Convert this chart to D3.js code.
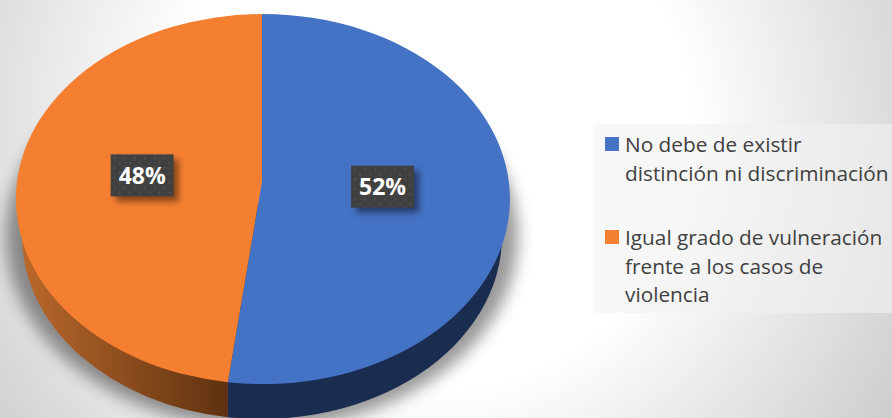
<!DOCTYPE html>
<html>
<head>
<meta charset="utf-8">
<script src="https://cdn.jsdelivr.net/npm/d3@7"></script>
<style>
  html, body { margin: 0; padding: 0; background: #fff; overflow: hidden; }
  text { font-family: "Open Sans", "Noto Sans", sans-serif; }
</style>
</head>
<body>
<div id="chart"></div>
<script>
const categories = ['No debe de existir distinción ni discriminación', 'Igual grado de vulneración frente a los casos de violencia']
const legendLines = [['No debe de existir', 'distinción ni discriminación'], ['Igual grado de vulneración', 'frente a los casos de', 'violencia']]
const values = [52, 48]
const colors = ['#4472c4', '#f47f30']

const width = 892, height = 418
// cara superior: elipse vista en perspectiva, el vertice queda arriba del centro
const cx = 262, cy = 199, rx = 247, ry = 185
const apexY = 181, k = -0.0973, projA = 245.8, projB = 183.2
// borde inferior del lateral
const rimY = 236, rimRx = 240, rimRy = 183

const svg = d3.select('#chart').append('svg')
  .attr('width', width).attr('height', height)

const defs = svg.append('defs')

const bg = defs.append('radialGradient').attr('id', 'bg')
  .attr('gradientUnits', 'userSpaceOnUse')
  .attr('cx', 430).attr('cy', 130).attr('r', 544)
bg.append('stop').attr('offset', 0.478).attr('stop-color', '#ffffff')
bg.append('stop').attr('offset', 1).attr('stop-color', '#cdcdcd')

const sideOrange = defs.append('linearGradient').attr('id', 'sideOrange')
  .attr('gradientUnits', 'userSpaceOnUse')
  .attr('x1', cx - rx).attr('x2', 229).attr('y1', 0).attr('y2', 0)
sideOrange.append('stop').attr('offset', 0).attr('stop-color', '#bd6a2c')
sideOrange.append('stop').attr('offset', 1).attr('stop-color', '#5e3110')

defs.append('filter').attr('id', 'soft').attr('x', '-20%').attr('y', '-20%').attr('width', '140%').attr('height', '140%')
  .append('feGaussianBlur').attr('stdDeviation', 8)
defs.append('filter').attr('id', 'labelShadow').attr('x', '-40%').attr('y', '-40%').attr('width', '180%').attr('height', '180%')
  .append('feGaussianBlur').attr('stdDeviation', 3)

const dots = defs.append('pattern').attr('id', 'dots')
  .attr('patternUnits', 'userSpaceOnUse').attr('width', 10).attr('height', 10)
dots.append('rect').attr('width', 10).attr('height', 10).attr('fill', '#404040')
dots.append('circle').attr('cx', 2.5).attr('cy', 2.5).attr('r', 1).attr('fill', '#565656')
dots.append('circle').attr('cx', 7.5).attr('cy', 7.5).attr('r', 1).attr('fill', '#565656')

svg.append('rect').attr('width', width).attr('height', height).attr('fill', 'url(#bg)')

const pie = d3.pie().sort(null).startAngle(0).endAngle(2 * Math.PI)
const slices = pie(values)

// pasa un angulo de la torta a la elipse en perspectiva
const project = (a, r = 1) => {
  const u = r * Math.sin(a), v = -r * Math.cos(a)
  const w = 1 + k * v
  return [cx + projA * u / w, apexY + projB * v / w]
}
const facePath = d => {
  const [x0, y0] = project(d.startAngle)
  const [x1, y1] = project(d.endAngle)
  const large = d.endAngle - d.startAngle > Math.PI ? 1 : 0
  return `M${cx},${apexY}L${x0},${y0}A${rx},${ry} 0 ${large} 1 ${x1},${y1}Z`
}

// sombra
svg.append('ellipse')
  .attr('cx', cx).attr('cy', rimY)
  .attr('rx', 256).attr('ry', 192)
  .attr('fill', '#000').attr('opacity', 0.4)
  .attr('filter', 'url(#soft)')

// lateral, cortado en la linea vertical entre las dos porciones
const splitX = project(slices[0].endAngle)[0]
const rimAt = x => rimY + rimRy * Math.sqrt(1 - ((x - cx) / rimRx) ** 2)
const side = svg.append('g')
side.append('path')
  .attr('d', `M${cx - rimRx},${rimY}A${rimRx},${rimRy} 0 0 0 ${splitX},${rimAt(splitX)}L${splitX},${cy}Z`)
  .attr('fill', 'url(#sideOrange)')
side.append('path')
  .attr('d', `M${splitX},${rimAt(splitX)}A${rimRx},${rimRy} 0 0 0 ${cx + rimRx},${rimY}L${splitX},${cy}Z`)
  .attr('fill', '#1a2c50')

svg.append('g').selectAll('path')
  .data(slices)
  .join('path')
  .attr('d', facePath)
  .attr('fill', (d, i) => colors[i])

// etiquetas
const labelW = 63, labelH = 42
const labels = svg.append('g').selectAll('g')
  .data(slices)
  .join('g')
  .attr('transform', d => {
    const [x, y] = project((d.startAngle + d.endAngle) / 2, 0.49)
    return `translate(${x},${y})`
  })
labels.append('rect')
  .attr('x', -labelW / 2 + 5).attr('y', -labelH / 2 + 5)
  .attr('width', labelW).attr('height', labelH)
  .attr('fill', '#000').attr('opacity', 0.45)
  .attr('filter', 'url(#labelShadow)')
labels.append('rect')
  .attr('x', -labelW / 2).attr('y', -labelH / 2)
  .attr('width', labelW).attr('height', labelH)
  .attr('fill', 'url(#dots)')
labels.append('text')
  .attr('text-anchor', 'middle').attr('dy', '0.36em')
  .attr('fill', '#fff').attr('font-size', 23).attr('font-weight', 700)
  .text(d => d.value + '%')

// leyenda
const legendTop = [137, 230], lineH = 28.6
svg.append('rect').attr('x', 594).attr('y', 124).attr('width', 298).attr('height', 189)
  .attr('fill', '#f2f2f2').attr('opacity', 0.6)
const legend = svg.append('g').selectAll('g')
  .data(categories)
  .join('g')
  .attr('transform', (d, i) => `translate(605,${legendTop[i]})`)
legend.append('rect').attr('width', 14).attr('height', 14)
  .attr('fill', (d, i) => colors[i])
legend.append('text')
  .attr('fill', '#404040').attr('font-size', 20.8)
  .selectAll('tspan')
  .data((d, i) => legendLines[i])
  .join('tspan')
  .attr('x', 20).attr('y', (d, i) => 15 + i * lineH)
  .text(d => d)
</script>
</body>
</html>
